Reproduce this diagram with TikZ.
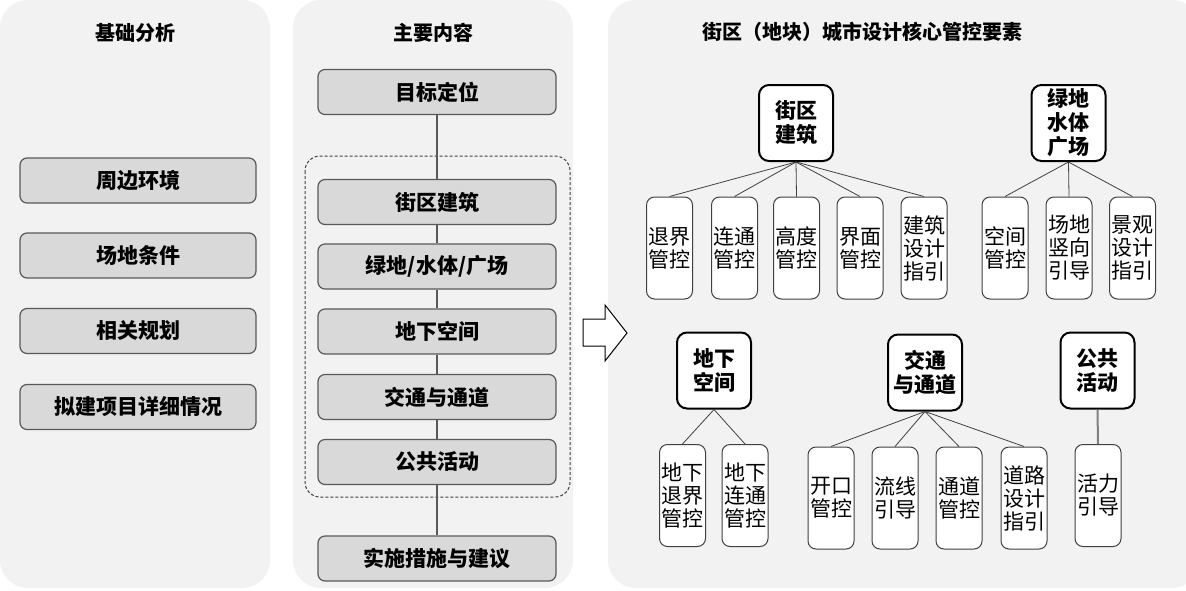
\documentclass[tikz,border=0pt]{standalone}
\usepackage{fontspec}
\setmainfont{Noto Sans CJK SC}
\definecolor{panelbg}{HTML}{F2F2F2}
\definecolor{boxfill}{HTML}{D9D9D9}
\definecolor{boxline}{HTML}{595959}
\definecolor{edgeline}{HTML}{404040}
\tikzset{
  panel/.style={fill=panelbg, draw=none, rounded corners=28pt},
  title/.style={font=\bfseries\fontsize{20}{24}\selectfont, inner sep=0pt},
  graybox/.style={draw=boxline, fill=boxfill, line width=1.2pt, rounded corners=7pt,
    minimum height=45pt, inner sep=0pt, font=\bfseries\fontsize{21}{24}\selectfont},
  leftbox/.style={graybox, minimum width=236pt},
  midbox/.style={graybox, minimum width=238pt},
  headbox/.style={draw=black, fill=white, line width=2pt, rounded corners=10pt,
    minimum width=74pt, minimum height=76pt, inner sep=0pt, align=center,
    font=\bfseries\fontsize{21}{24}\selectfont},
  childbox/.style={draw=edgeline, fill=white, line width=1pt, rounded corners=8pt,
    minimum width=46pt, minimum height=102pt, inner sep=0pt, align=center,
    font=\fontsize{21}{23}\selectfont},
  trunk/.style={draw=boxline, line width=1.2pt},
  branch/.style={draw=edgeline, line width=0.8pt},
  thickbranch/.style={draw=gray, line width=2pt}
}
\begin{document}
\begin{tikzpicture}[x=1pt,y=-1pt]
\useasboundingbox (0,0) rectangle (1186,590);
\fill[white] (0,0) rectangle (1186,590);
% panels
\fill[panel] (0,0) rectangle (270,588);
\fill[panel] (293,0) rectangle (573,588);
\fill[panel] (608,0) rectangle (1200,588);
% titles
\node[title] (t1) at (135,33) {基础分析};
\node[title] (t2) at (433,33) {主要内容};
\node[title] (t3) at (862,32) {街区（地块）城市设计核心管控要素};
% left boxes
\node[leftbox] (l1) at (138,180.5) {周边环境};
\node[leftbox] (l2) at (138,255.5) {场地条件};
\node[leftbox] (l3) at (138,331) {相关规划};
\node[leftbox] (l4) at (138,407) {拟建项目详细情况};
% dashed group
\draw[edgeline, line width=1pt, dash pattern=on 3pt off 2pt, rounded corners=15pt] (305,156) rectangle (570,497);
% middle boxes
\node[midbox] (m1) at (437,92) {目标定位};
\node[midbox] (m2) at (437,202) {街区建筑};
\node[midbox] (m3) at (437,266.5) {绿地/水体/广场};
\node[midbox] (m4) at (437,331.5) {地下空间};
\node[midbox] (m5) at (437,397) {交通与通道};
\node[midbox] (m6) at (437,462) {公共活动};
\node[midbox] (m7) at (437,558.5) {实施措施与建议};
\draw[trunk] (m1.south) -- (m2.north);
\draw[trunk] (m2.south) -- (m3.north);
\draw[trunk] (m3.south) -- (m4.north);
\draw[trunk] (m4.south) -- (m5.north);
\draw[trunk] (m5.south) -- (m6.north);
\draw[trunk] (m6.south) -- (m7.north);
% block arrow
\draw[black, fill=white, line width=1pt, line join=miter]
  (583,319) -- (605,319) -- (605,305) -- (627,333) -- (605,361) -- (605,346) -- (583,346) -- cycle;
% group 1
\node[headbox] (h1) at (796,123) {街区\\建筑};
\node[childbox] (c11) at (669.5,248) {退界\\管控};
\node[childbox] (c12) at (734.5,248) {连通\\管控};
\node[childbox] (c13) at (796.5,248) {高度\\管控};
\node[childbox] (c14) at (860,248) {界面\\管控};
\node[childbox] (c15) at (924,248) {建筑\\设计\\指引};
\foreach \c in {c11,c12,c13,c14,c15} \draw[branch] (h1.south) -- (\c.north);
% group 2
\node[headbox] (h2) at (1068.5,123) {绿地\\水体\\广场};
\node[childbox] (c21) at (1005,248) {空间\\管控};
\node[childbox] (c22) at (1069,248) {场地\\竖向\\引导};
\node[childbox] (c23) at (1132.5,248) {景观\\设计\\指引};
\foreach \c in {c21,c22,c23} \draw[branch] (h2.south) -- (\c.north);
% group 3
\node[headbox] (h3) at (714,370.5) {地下\\空间};
\node[childbox] (c31) at (682.5,495.5) {地下\\退界\\管控};
\node[childbox] (c32) at (745,495.5) {地下\\连通\\管控};
\foreach \c in {c31,c32} \draw[branch] (h3.south) -- (\c.north);
% group 4
\node[headbox] (h4) at (925,372.5) {交通\\与通道};
\node[childbox] (c41) at (831,498) {开口\\管控};
\node[childbox] (c42) at (895,498) {流线\\引导};
\node[childbox] (c43) at (959,498) {通道\\管控};
\node[childbox] (c44) at (1024,498) {道路\\设计\\指引};
\foreach \c in {c41,c42,c43,c44} \draw[branch] (h4.south) -- (\c.north);
% group 5
\node[headbox] (h5) at (1097.5,370.5) {公共\\活动};
\node[childbox] (c51) at (1098,495.5) {活力\\引导};
\draw[thickbranch] (h5.south) -- (c51.north);
\end{tikzpicture}
\end{document}
